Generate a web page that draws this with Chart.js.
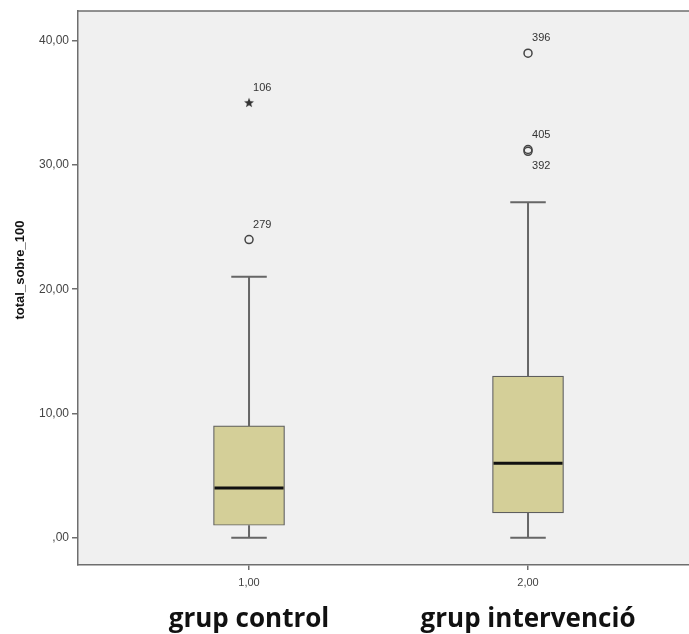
<!DOCTYPE html>
<html>
<head>
<meta charset="utf-8">
<script src="https://cdn.jsdelivr.net/npm/chart.js@4/dist/chart.umd.min.js"></script>
<style>
html,body{margin:0;padding:0;background:#fff;overflow:hidden;}
canvas{display:block;}
</style>
</head>
<body>
<canvas id="c" width="689" height="634"></canvas>
<script>
// ---- data ----
const categories = [1, 2];
const xTickLabels = ['1,00', '2,00'];
const groupLabels = ['grup control', 'grup intervenció'];
const yTickValues = [0, 10, 20, 30, 40];
const yTickLabels = [',00', '10,00', '20,00', '30,00', '40,00'];
const yTitle = 'total_sobre_100';
const whiskerLow = [0, 0];
const q1 = [1, 2];
const median = [4, 6];
const q3 = [9, 13];
const whiskerHigh = [21, 27];
const outlierGroup = [1, 1, 2, 2, 2];
const outlierValue = [35, 24, 39, 31.25, 31.1];
const outlierId = ['106', '279', '396', '405', '392'];
const outlierExtreme = [true, false, false, false, false];
const outlierLabelBelow = [false, false, false, false, true];

// ---- style ----
const FONT = "'Liberation Sans', Arial, sans-serif";
const AXIS_COLOR = '#6e6e6e';
const BOX_WIDTH = 71;

function makeStar() {
  const c = document.createElement('canvas');
  c.width = 12; c.height = 12;
  const g = c.getContext('2d');
  g.fillStyle = '#333';
  g.beginPath();
  for (let k = 0; k < 10; k++) {
    const r = k % 2 === 0 ? 5.2 : 2.2;
    const a = -Math.PI / 2 + k * Math.PI / 5;
    const px = 6 + r * Math.cos(a), py = 6 + r * Math.sin(a);
    if (k === 0) g.moveTo(px, py); else g.lineTo(px, py);
  }
  g.closePath();
  g.fill();
  return c;
}

const circleData = [], starData = [];
outlierValue.forEach((v, i) => {
  const p = { x: outlierGroup[i], y: v };
  (outlierExtreme[i] ? starData : circleData).push(p);
});

const boxPlugin = {
  id: 'boxParts',
  beforeDraw(chart) {
    const { ctx, chartArea: a } = chart;
    ctx.save();
    ctx.fillStyle = '#ffffff';
    ctx.fillRect(0, 0, chart.width, chart.height);
    ctx.fillStyle = '#f0f0f0';
    ctx.fillRect(a.left, a.top, a.right - a.left, a.bottom - a.top);
    ctx.restore();
  },
  afterDatasetDraw(chart, args) {
    if (args.index !== 0) return;
    const { ctx } = chart;
    const xs = chart.scales.x, ys = chart.scales.y;
    ctx.save();
    categories.forEach((c, i) => {
      const px = xs.getPixelForValue(c);
      ctx.strokeStyle = '#666';
      ctx.lineWidth = 2;
      ctx.beginPath();
      ctx.moveTo(px, ys.getPixelForValue(q3[i]));
      ctx.lineTo(px, ys.getPixelForValue(whiskerHigh[i]));
      ctx.moveTo(px, ys.getPixelForValue(q1[i]));
      ctx.lineTo(px, ys.getPixelForValue(whiskerLow[i]));
      const capH = ys.getPixelForValue(whiskerHigh[i]);
      const capL = ys.getPixelForValue(whiskerLow[i]);
      ctx.moveTo(px - BOX_WIDTH / 4, capH); ctx.lineTo(px + BOX_WIDTH / 4, capH);
      ctx.moveTo(px - BOX_WIDTH / 4, capL); ctx.lineTo(px + BOX_WIDTH / 4, capL);
      ctx.stroke();
      ctx.strokeStyle = '#111';
      ctx.lineWidth = 3;
      ctx.beginPath();
      const my = ys.getPixelForValue(median[i]);
      ctx.moveTo(px - BOX_WIDTH / 2 + 1, my);
      ctx.lineTo(px + BOX_WIDTH / 2 - 1, my);
      ctx.stroke();
    });
    ctx.restore();
  },
  afterDraw(chart) {
    const { ctx, chartArea: a } = chart;
    const xs = chart.scales.x, ys = chart.scales.y;
    ctx.save();
    ctx.strokeStyle = AXIS_COLOR;
    ctx.lineWidth = 1.5;
    ctx.beginPath();
    ctx.moveTo(a.left, a.top);
    ctx.lineTo(chart.width, a.top);
    ctx.stroke();
    ctx.fillStyle = '#333';
    ctx.font = '11px ' + FONT;
    ctx.textAlign = 'left';
    ctx.textBaseline = 'middle';
    outlierValue.forEach((v, i) => {
      const px = xs.getPixelForValue(outlierGroup[i]);
      const py = ys.getPixelForValue(v);
      ctx.fillText(outlierId[i], px + 4, py + (outlierLabelBelow[i] ? 15 : -15));
    });
    ctx.translate(20, 270);
    ctx.rotate(-Math.PI / 2);
    ctx.font = 'bold 13px ' + FONT;
    ctx.fillStyle = '#111';
    ctx.textAlign = 'center';
    ctx.fillText(yTitle, 0, 0);
    ctx.restore();
  }
};

const xTicks = axis => { axis.ticks = categories.map(v => ({ value: v })); };

new Chart(document.getElementById('c'), {
  type: 'scatter',
  data: {
    datasets: [
      {
        type: 'bar',
        data: categories.map((c, i) => ({ x: c, y: [q1[i], q3[i]] })),
        backgroundColor: '#d4cf98',
        borderColor: '#5e5e5e',
        borderWidth: 1.2,
        borderSkipped: false,
        barThickness: BOX_WIDTH
      },
      {
        type: 'scatter',
        data: circleData,
        pointStyle: 'circle',
        pointRadius: 4,
        pointBorderWidth: 1.5,
        pointBorderColor: '#444',
        pointBackgroundColor: 'rgba(0,0,0,0)'
      },
      {
        type: 'scatter',
        data: starData,
        pointStyle: makeStar(),
        pointRadius: 5
      }
    ]
  },
  options: {
    responsive: false,
    animation: false,
    events: [],
    layout: { autoPadding: false, padding: { left: 28, top: 11, right: 0, bottom: 0 } },
    plugins: { legend: { display: false }, tooltip: { enabled: false } },
    scales: {
      x: {
        type: 'linear',
        position: 'bottom',
        offset: false,
        weight: 0,
        min: 0.387,
        max: 2.577,
        afterBuildTicks: xTicks,
        afterFit: s => { s.height = 26; },
        ticks: {
          callback: v => xTickLabels[categories.indexOf(v)],
          font: { family: FONT, size: 11 },
          color: '#444',
          padding: 6,
          maxRotation: 0
        },
        grid: { offset: false, drawOnChartArea: false, drawTicks: true, tickLength: 5, color: AXIS_COLOR, lineWidth: 1.5 },
        border: { display: true, color: AXIS_COLOR, width: 1.5 }
      },
      x2: {
        type: 'linear',
        position: 'bottom',
        offset: false,
        weight: 1,
        min: 0.387,
        max: 2.577,
        afterBuildTicks: xTicks,
        afterFit: s => { s.height = 43; },
        ticks: {
          callback: v => groupLabels[categories.indexOf(v)],
          font: { family: "'Open Sans', sans-serif", size: 26, weight: 'bold' },
          color: '#111',
          padding: 13,
          maxRotation: 0
        },
        grid: { offset: false, display: false, drawTicks: false },
        border: { display: false }
      },
      y: {
        type: 'linear',
        min: -2.2,
        max: 42.4,
        afterBuildTicks: axis => { axis.ticks = yTickValues.map(v => ({ value: v })); },
        afterFit: s => { s.width = 50; },
        ticks: {
          callback: v => yTickLabels[yTickValues.indexOf(v)],
          font: { family: FONT, size: 12 },
          color: '#444',
          padding: 3
        },
        grid: { drawOnChartArea: false, drawTicks: true, tickLength: 6, color: AXIS_COLOR, lineWidth: 1.5 },
        border: { display: true, color: AXIS_COLOR, width: 1.5 }
      }
    }
  },
  plugins: [boxPlugin]
});
</script>
</body>
</html>
